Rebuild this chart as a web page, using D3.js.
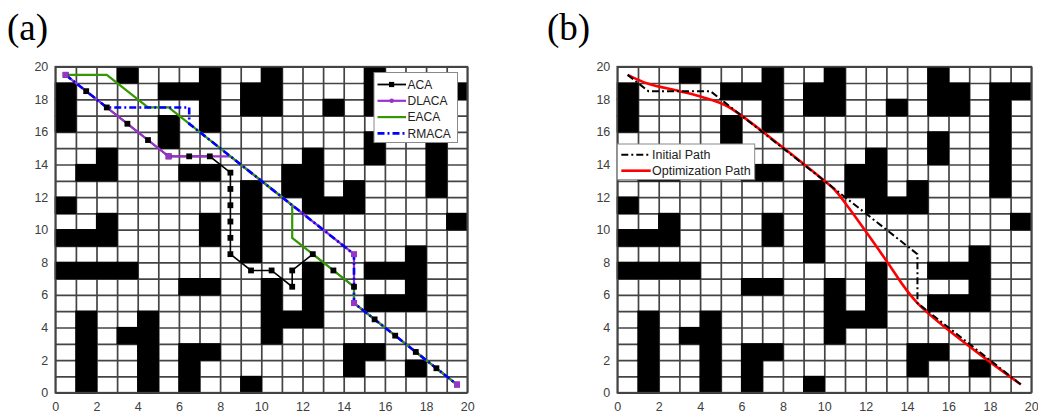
<!DOCTYPE html>
<html>
<head>
<meta charset="utf-8">
<script src="https://cdn.jsdelivr.net/npm/d3@7"></script>
<style>
  body { margin: 0; background: #fff; }
  svg { display: block; }
</style>
</head>
<body>
<svg id="chart" width="1038" height="414"></svg>
<script>
// Blocked cells of the 20x20 grid map: one list of column indices per row (row 0 at the bottom)
const obstacleRows = [
  [1, 4, 6, 9],
  [1, 4, 6, 14, 17],
  [1, 4, 6, 7, 14, 15],
  [1, 3, 4, 10],
  [1, 4, 10, 11, 12],
  [10, 12, 15, 16, 17],
  [6, 7, 10, 12, 17],
  [0, 1, 2, 3, 12, 15, 16, 17],
  [9, 17],
  [0, 1, 2, 7, 9],
  [2, 7, 9, 19],
  [0, 9, 12, 13, 14],
  [9, 11, 12, 14, 18],
  [1, 2, 6, 7, 11, 12, 18],
  [2, 12, 15, 18],
  [5, 15, 18],
  [0, 5, 7, 18],
  [0, 7, 9, 10, 13, 15, 16, 18],
  [0, 5, 6, 7, 9, 10, 15, 16, 18, 19],
  [3, 7, 10, 15]
];

const tickValues = [0, 2, 4, 6, 8, 10, 12, 14, 16, 18, 20];

// Panel (a): paths found by the four algorithms
const acaPath = [[0.5,19.5],[1.5,18.5],[2.5,17.5],[3.5,16.5],[4.5,15.5],[5.5,14.5],[6.5,14.5],[7.5,14.5],
  [8.5,13.5],[8.5,12.5],[8.5,11.5],[8.5,10.5],[8.5,9.5],[8.5,8.5],[9.5,7.5],[10.5,7.5],[11.5,6.5],
  [11.5,7.5],[12.5,8.5],[13.5,7.5],[14.5,6.5],[14.5,5.5],[15.5,4.5],[16.5,3.5],[17.5,2.5],[18.5,1.5],[19.5,0.5]];
const dlacaPath = [[0.5,19.5],[5.5,14.5],[8.5,14.5],[14.5,8.5],[14.5,5.5],[19.5,0.5]];
const dlacaMarks = [[0.5,19.5],[5.5,14.5],[14.5,8.5],[14.5,5.5],[19.5,0.5]];
const eacaPath = [[0.5,19.5],[2.5,19.5],[4.5,17.5],[5.5,17.5],[11.5,11.5],[11.5,9.5],[14.5,6.5],[14.5,5.5],[19.5,0.5]];
const rmacaPath = [[0.5,19.5],[2.5,17.5],[6.5,17.5],[6.5,16.5],[14.5,8.5],[14.5,5.5],[19.5,0.5]];

// Panel (b): initial path and smoothed optimization path
const initialPath = [[0.5,19.5],[1.5,18.5],[4.5,18.5],[14.5,8.5],[14.5,5.5],[19.5,0.5]];
const optimizedPath = [[0.5,19.5],[1.5,18.95],[3.0,18.5],[4.2,18.1],[5.2,17.65],[6.0,17.0],[10.0,13.0],
  [10.5,12.45],[11.0,11.65],[12.0,9.9],[13.0,8.1],[14.5,5.5],[19.5,0.5]];

const legendA = ["ACA", "DLACA", "EACA", "RMACA"];
const legendB = ["Initial Path", "Optimization Path"];

const svg = d3.select("#chart");
const FONT = "'Liberation Sans', Arial, sans-serif";
const GRID = "#444";

function drawMap(left, right, top, bottom) {
  const x = d3.scaleLinear().domain([0, 20]).range([left, right]);
  const y = d3.scaleLinear().domain([0, 20]).range([bottom, top]);
  const g = svg.append("g");
  const h = bottom - top, w = right - left;

  g.append("rect").attr("x", left).attr("y", top).attr("width", w).attr("height", h).attr("fill", "#fff");

  // grid lines
  const gx = g.append("g").attr("transform", `translate(0,${bottom})`)
    .call(d3.axisBottom(x).tickValues(d3.range(0, 21)).tickSize(-h).tickFormat(""));
  const gy = g.append("g").attr("transform", `translate(${left},0)`)
    .call(d3.axisLeft(y).tickValues(d3.range(0, 21)).tickSize(-w).tickFormat(""));
  [gx, gy].forEach(a => {
    a.select(".domain").remove();
    a.selectAll("line").attr("stroke", GRID).attr("stroke-width", 1.7);
  });

  // obstacles
  const cells = [];
  obstacleRows.forEach((cols, r) => cols.forEach(c => cells.push([c, r])));
  g.append("g").selectAll("rect").data(cells).join("rect")
    .attr("x", d => x(d[0])).attr("y", d => y(d[1] + 1))
    .attr("width", d => x(d[0] + 1) - x(d[0]))
    .attr("height", d => y(d[1]) - y(d[1] + 1))
    .attr("fill", "#000").attr("stroke", "#000").attr("stroke-width", 1.2);

  g.append("rect").attr("x", left).attr("y", top).attr("width", w).attr("height", h)
    .attr("fill", "none").attr("stroke", GRID).attr("stroke-width", 1.7);

  // tick labels
  const ax = g.append("g").attr("transform", `translate(0,${bottom})`)
    .call(d3.axisBottom(x).tickValues(tickValues).tickSize(0).tickPadding(9));
  const ay = g.append("g").attr("transform", `translate(${left},0)`)
    .call(d3.axisLeft(y).tickValues(tickValues).tickSize(0).tickPadding(7));
  [ax, ay].forEach(a => {
    a.select(".domain").remove();
    a.selectAll("text").attr("font-family", FONT).attr("font-size", 12.5).attr("fill", "#404040");
  });
  return { x, y, g };
}

function pathLine(s) {
  return d3.line().x(d => s.x(d[0])).y(d => s.y(d[1]));
}

// ---------- panel (a) ----------
const A = drawMap(55.3, 467.3, 66.7, 392.7);
const lineA = pathLine(A);
A.g.append("path").datum(acaPath).attr("d", lineA).attr("fill", "none")
  .attr("stroke", "#000").attr("stroke-width", 1.6);
A.g.append("path").datum(dlacaPath).attr("d", lineA).attr("fill", "none")
  .attr("stroke", "#9933cc").attr("stroke-width", 2.2);
A.g.append("path").datum(eacaPath).attr("d", lineA).attr("fill", "none")
  .attr("stroke", "#339900").attr("stroke-width", 2.2);
A.g.append("path").datum(rmacaPath).attr("d", lineA).attr("fill", "none")
  .attr("stroke", "#0000ff").attr("stroke-width", 2.6).attr("stroke-dasharray", "7,3,2,3");
A.g.append("g").selectAll("rect").data(acaPath).join("rect")
  .attr("x", d => A.x(d[0]) - 2.9).attr("y", d => A.y(d[1]) - 2.9)
  .attr("width", 5.8).attr("height", 5.8).attr("fill", "#000");
A.g.append("g").selectAll("rect").data(dlacaMarks).join("rect")
  .attr("x", d => A.x(d[0]) - 3).attr("y", d => A.y(d[1]) - 3)
  .attr("width", 6).attr("height", 6).attr("fill", "#9933cc");

// legend (a)
const la = svg.append("g");
la.append("rect").attr("x", 374).attr("y", 72.5).attr("width", 83.5).attr("height", 70)
  .attr("fill", "#fff").attr("stroke", "#8a8a8a").attr("stroke-width", 1);
const legStyleA = [
  { stroke: "#000", width: 1.8, dash: null },
  { stroke: "#9933cc", width: 2.2, dash: null },
  { stroke: "#339900", width: 2.2, dash: null },
  { stroke: "#0000ff", width: 2.6, dash: "7,3,2,3" }
];
legendA.forEach((name, i) => {
  const yy = 84.5 + i * 16.3;
  const st = legStyleA[i];
  la.append("line").attr("x1", 377.5).attr("x2", 406).attr("y1", yy).attr("y2", yy)
    .attr("stroke", st.stroke).attr("stroke-width", st.width)
    .attr("stroke-dasharray", st.dash);
  if (i === 0) la.append("rect").attr("x", 389).attr("y", yy - 2.6).attr("width", 5.2).attr("height", 5.2).attr("fill", "#000");
  if (i === 1) la.append("circle").attr("cx", 391.7).attr("cy", yy).attr("r", 2.3).attr("fill", "#9933cc");
  la.append("text").attr("x", 407.5).attr("y", yy).attr("dy", "0.35em")
    .attr("font-family", FONT).attr("font-size", 12).attr("fill", "#222").text(name);
});

// ---------- panel (b) ----------
const B = drawMap(617.3, 1031.3, 66.7, 392.7);
B.g.append("path").datum(optimizedPath)
  .attr("d", d3.line().x(d => B.x(d[0])).y(d => B.y(d[1])).curve(d3.curveCatmullRom.alpha(0.5)))
  .attr("fill", "none").attr("stroke", "#ff0000").attr("stroke-width", 2.6);
B.g.append("path").datum(initialPath).attr("d", pathLine(B)).attr("fill", "none")
  .attr("stroke", "#000").attr("stroke-width", 2).attr("stroke-dasharray", "7,3,2,3");

// legend (b)
const lb = svg.append("g");
lb.append("rect").attr("x", 617.3).attr("y", 144).attr("width", 137.4).attr("height", 35.7)
  .attr("fill", "#fff").attr("stroke", "#8a8a8a").attr("stroke-width", 1);
const legStyleB = [
  { stroke: "#000", width: 2, dash: "7,3,2,3" },
  { stroke: "#ff0000", width: 2.6, dash: null }
];
legendB.forEach((name, i) => {
  const yy = 154.7 + i * 16;
  const st = legStyleB[i];
  lb.append("line").attr("x1", 621.3).attr("x2", 650.7).attr("y1", yy).attr("y2", yy)
    .attr("stroke", st.stroke).attr("stroke-width", st.width).attr("stroke-dasharray", st.dash);
  lb.append("text").attr("x", 652).attr("y", yy).attr("dy", "0.35em")
    .attr("font-family", FONT).attr("font-size", 12.5).attr("fill", "#222").text(name);
});

// panel labels
svg.append("text").attr("x", 7).attr("y", 40).attr("font-family", "'Liberation Serif', 'Times New Roman', serif")
  .attr("font-size", 37).attr("fill", "#000").text("(a)");
svg.append("text").attr("x", 547).attr("y", 40).attr("font-family", "'Liberation Serif', 'Times New Roman', serif")
  .attr("font-size", 37).attr("fill", "#000").text("(b)");
</script>
</body>
</html>
